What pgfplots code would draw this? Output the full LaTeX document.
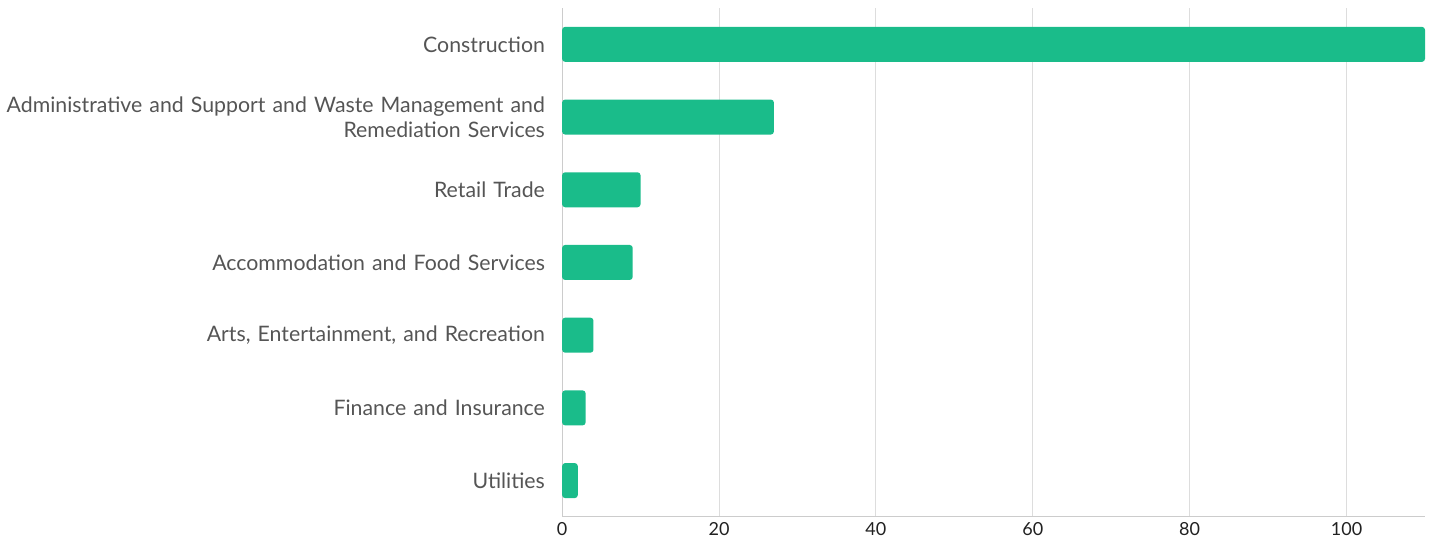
\documentclass[border=0pt]{standalone}
\usepackage{fontspec}
\setmainfont{Lato}
\usepackage{pgfplots}
\pgfplotsset{compat=1.18}
\definecolor{bargreen}{RGB}{26,188,138}
\definecolor{gridgray}{RGB}{221,221,221}
\definecolor{axisgray}{RGB}{204,204,204}
\definecolor{labelgray}{RGB}{85,85,85}
\begin{document}
\begin{tikzpicture}
\begin{axis}[
    scale only axis,
    width=863pt, height=509pt,
    xbar, bar width=35pt,
    xmin=0, xmax=110,
    ymin=-0.5, ymax=6.5,
    y dir=reverse,
    axis x line*=bottom, axis y line*=left,
    axis line style={axisgray, line width=1pt},
    xmajorgrids, grid style={gridgray, line width=1pt},
    xtick={0,20,...,100},
    ytick={0,...,6},
    yticklabels={Construction,
      {Administrative and Support and Waste Management and\\Remediation Services},
      Retail Trade, Accommodation and Food Services,
      {Arts, Entertainment, and Recreation}, Finance and Insurance, Utilities},
    major tick length=0pt,
    /pgf/number format/assume math mode=true,
    xticklabel style={font=\fontsize{18}{22}\selectfont, text=black!87, yshift=-2pt},
    yticklabel style={font=\fontsize{21.3}{25}\selectfont, text=labelgray,
      anchor=east, xshift=-17pt, inner sep=0pt, text width=545pt, align=right},
    clip=false,
]
\addplot[fill=bargreen, draw=none, rounded corners=3pt] coordinates {
    (110,0) (27,1) (10,2) (9,3) (4,4) (3,5) (2,6)};
\end{axis}
\path[draw=none] ([xshift=-562pt,yshift=-27pt]current axis.south west)
  rectangle ([xshift=14pt,yshift=8pt]current axis.north east);
\end{tikzpicture}
\end{document}
